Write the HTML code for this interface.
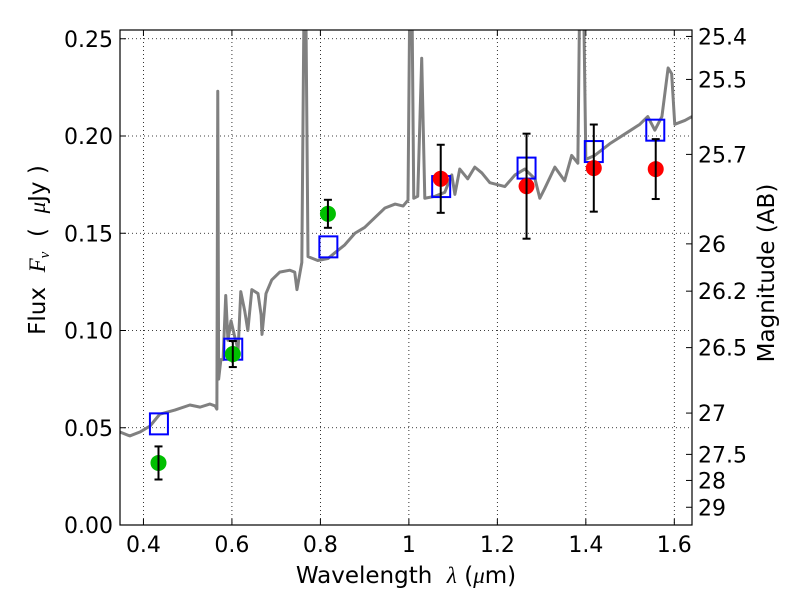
<!DOCTYPE html>
<html><head><meta charset="utf-8"><style>
html,body{margin:0;padding:0;background:#fff;}
svg{display:block;font-family:"DejaVu Sans","Liberation Sans",sans-serif;}
</style></head><body>
<svg id="chart" width="800" height="600"></svg>
<script>
const specLambda=[0.347,0.369,0.392,0.415,0.437,0.471,0.505,0.528,0.550,0.562,0.566,0.568,0.570,0.575,0.580,0.586,0.591,0.598,0.605,0.614,0.620,0.629,0.636,0.645,0.659,0.666,0.668,0.677,0.690,0.708,0.731,0.742,0.747,0.758,0.763,0.767,0.772,0.794,0.817,0.833,0.855,0.878,0.900,0.923,0.946,0.969,0.987,0.998,1.002,1.007,1.011,1.020,1.029,1.036,1.059,1.081,1.097,1.104,1.115,1.133,1.149,1.165,1.183,1.217,1.240,1.262,1.285,1.296,1.307,1.330,1.352,1.368,1.382,1.386,1.395,1.400,1.420,1.454,1.488,1.522,1.540,1.556,1.572,1.586,1.594,1.601,1.624,1.640];
const specFlux=[0.0478,0.0458,0.0478,0.0509,0.0570,0.0591,0.0617,0.0606,0.0622,0.0612,0.0596,0.223,0.075,0.085,0.085,0.118,0.095,0.105,0.098,0.090,0.120,0.110,0.100,0.121,0.119,0.108,0.098,0.119,0.126,0.130,0.131,0.130,0.121,0.135,0.27,0.27,0.138,0.136,0.137,0.140,0.144,0.150,0.153,0.158,0.163,0.165,0.164,0.167,0.27,0.27,0.168,0.169,0.240,0.168,0.169,0.171,0.180,0.170,0.183,0.178,0.184,0.181,0.176,0.174,0.180,0.183,0.178,0.168,0.173,0.184,0.177,0.190,0.186,0.27,0.27,0.188,0.190,0.196,0.201,0.206,0.210,0.203,0.210,0.235,0.232,0.206,0.208,0.210];
const modelLambda=[0.435,0.603,0.818,1.073,1.266,1.418,1.557];
const modelFlux=[0.052,0.0904,0.143,0.174,0.1835,0.192,0.203];
const greenLambda=[0.434,0.602,0.817];
const greenFlux=[0.0319,0.0879,0.160];
const greenErr=[0.0085,0.0067,0.0072];
const redLambda=[1.072,1.266,1.418,1.558];
const redFlux=[0.178,0.1742,0.1835,0.183];
const redErr=[0.0175,0.027,0.0224,0.0154];
const xTicks=[0.4,0.6,0.8,1.0,1.2,1.4,1.6];
const xTickLabels=["0.4","0.6","0.8","1","1.2","1.4","1.6"];
const yTicks=[0,0.05,0.10,0.15,0.20,0.25];
const yTickLabels=["0.00","0.05","0.10","0.15","0.20","0.25"];
const magTicks=[25.4,25.5,25.7,26,26.2,26.5,27,27.5,28,29];

const L=120,R=692,T=30,B=525;
const X0=0.347,X1=1.640,Y0=0,Y1=0.2545;
const sx=v=>L+(v-X0)/(X1-X0)*(R-L);
const sy=v=>B-(v-Y0)/(Y1-Y0)*(B-T);
const NS="http://www.w3.org/2000/svg";
const svg=document.getElementById('chart');
function mk(tag,attrs,parent){const e=document.createElementNS(NS,tag);for(const k in attrs)e.setAttribute(k,attrs[k]);(parent||svg).appendChild(e);return e;}

const defs=mk('defs',{});
const cp=mk('clipPath',{id:'clip'},defs);
mk('rect',{x:L,y:T,width:R-L,height:B-T},cp);

xTicks.forEach((v,i)=>{
  const g=mk('line',{x1:sx(v),x2:sx(v),y1:T,y2:B,stroke:'#000','stroke-width':0.8,'stroke-dasharray':'1,3'});
  
  
  mk('line',{x1:sx(v),x2:sx(v),y1:B,y2:B-6,stroke:'#000'});
  mk('line',{x1:sx(v),x2:sx(v),y1:T,y2:T+6,stroke:'#000'});
  const t=mk('text',{x:sx(v),y:B+27,'text-anchor':'middle','font-size':22});
  t.textContent=xTickLabels[i];
  
  
});
yTicks.forEach((v,i)=>{
  const g=mk('line',{x1:L,x2:R,y1:sy(v),y2:sy(v),stroke:'#000','stroke-width':0.8,'stroke-dasharray':'1,3'});
  
  
  mk('line',{x1:L,x2:L+6,y1:sy(v),y2:sy(v),stroke:'#000'});
  const t=mk('text',{x:L-7,y:sy(v)+8,'text-anchor':'end','font-size':22});
  t.textContent=yTickLabels[i];
  
  
});
magTicks.forEach(m=>{
  const f=Math.pow(10,(23.9-m)/2.5);
  const y=sy(f);
  mk('line',{x1:R,x2:R-6,y1:y,y2:y,stroke:'#000'});
  const t=mk('text',{x:R+6,y:y+8,'font-size':22});
  t.textContent=String(m);
  
  
});

const g=mk('g',{'clip-path':'url(#clip)'});


const sp=mk('polyline',{points:specLambda.map((l,i)=>sx(l)+','+sy(specFlux[i])).join(' '),fill:'none',stroke:'#808080','stroke-width':3,'stroke-linejoin':'round'},g);



modelLambda.forEach((l,i)=>{
  const r=mk('rect',{x:sx(l)-9,y:sy(modelFlux[i])-10.5,width:18,height:21,fill:'none',stroke:'#0000ff','stroke-width':2},g);
  
  
});
function points(lams,fl,er,color,name){
  lams.forEach((l,i)=>{
    const x=sx(l),y1=sy(fl[i]-er[i]),y2=sy(fl[i]+er[i]);
    const c=mk('circle',{cx:x,cy:sy(fl[i]),r:8,fill:color},g);
    
    
    mk('line',{x1:x,x2:x,y1:y1,y2:y2,stroke:'#000','stroke-width':2},g);
    mk('line',{x1:x-4,x2:x+4,y1:y1,y2:y1,stroke:'#000','stroke-width':2},g);
    mk('line',{x1:x-4,x2:x+4,y1:y2,y2:y2,stroke:'#000','stroke-width':2},g);
  });
}
points(greenLambda,greenFlux,greenErr,'#00bf00','green-data-point');
points(redLambda,redFlux,redErr,'#ff0000','red-data-point');

const fr=mk('rect',{x:L,y:T,width:R-L,height:B-T,fill:'none',stroke:'#000','stroke-width':1.2});



const xl=mk('text',{x:406,y:583,'text-anchor':'middle','font-size':23});
xl.innerHTML='Wavelength\u00a0\u00a0<tspan font-style="italic" font-family="Liberation Serif">λ</tspan> (<tspan font-style="italic" font-family="Liberation Serif">μ</tspan>m)';


const yl=mk('text',{x:0,y:0,'text-anchor':'middle','font-size':23,transform:'translate(45,250) rotate(-90)'});
yl.innerHTML='Flux\u00a0\u00a0<tspan font-style="italic" font-family="Liberation Serif">F<tspan font-size="15" dy="4">ν</tspan></tspan><tspan dy="-4">\u00a0\u00a0(\u00a0\u00a0</tspan><tspan font-style="italic" font-family="Liberation Serif">μ</tspan>Jy )';


const rl=mk('text',{x:0,y:0,'text-anchor':'middle','font-size':23,transform:'translate(774,273) rotate(-90)'});
rl.textContent='Magnitude (AB)';


</script>
</body></html>
